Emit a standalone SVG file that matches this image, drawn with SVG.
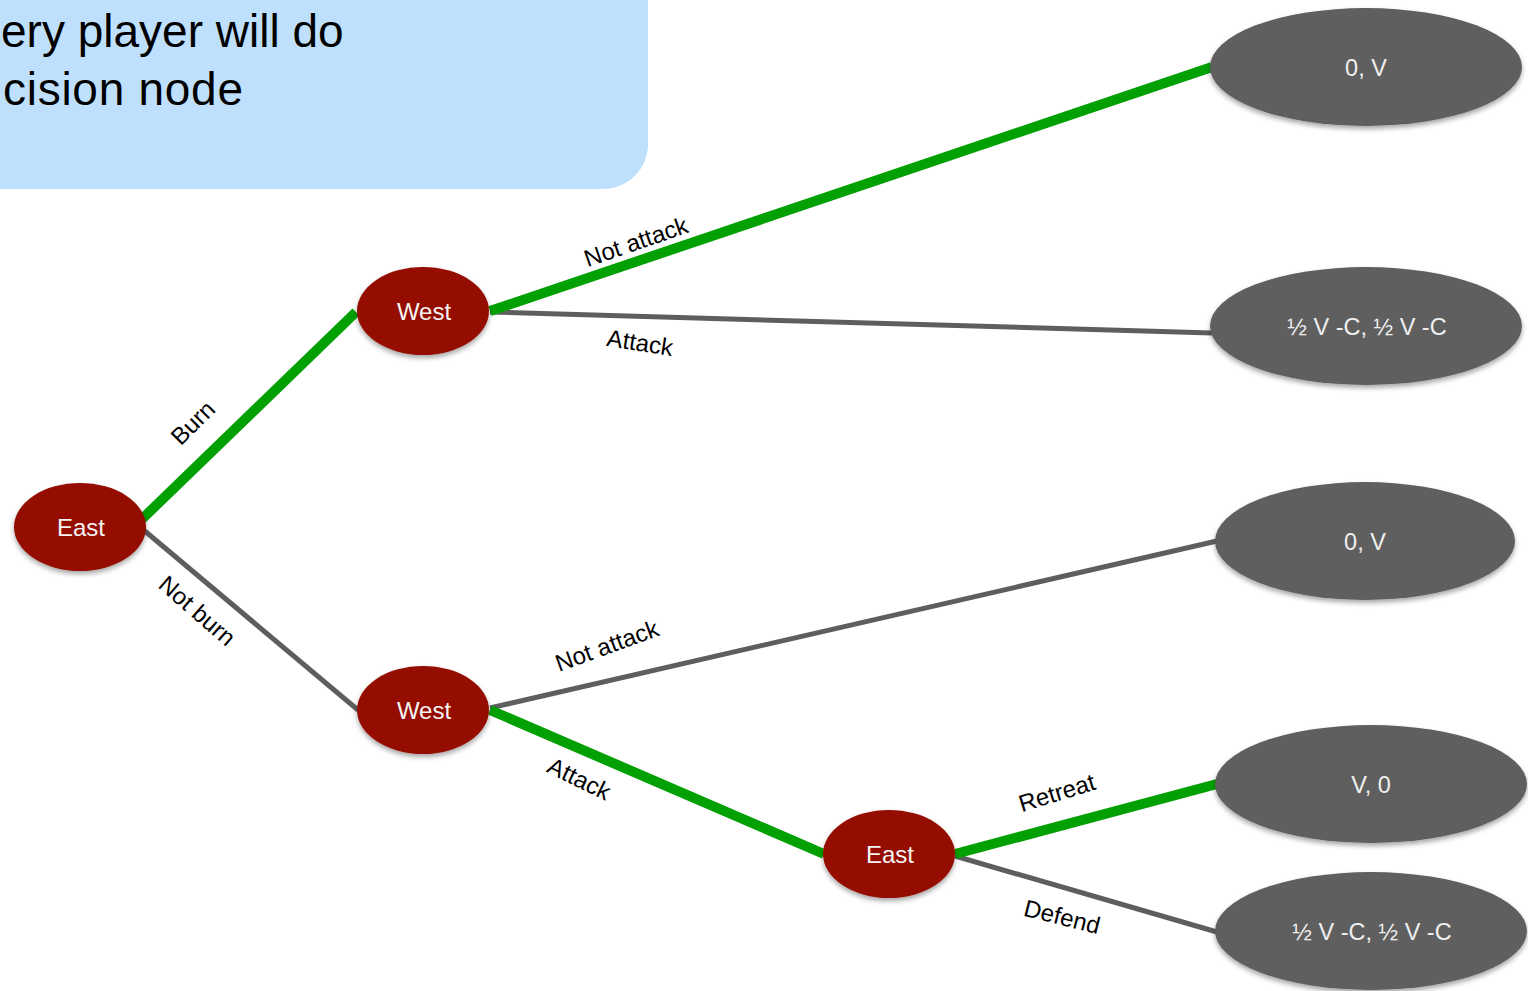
<svg xmlns="http://www.w3.org/2000/svg" width="1528" height="991" viewBox="0 0 1528 991">
  <style>
    .lbl { font-family: "Liberation Sans", Arial, sans-serif; font-size: 24px; fill: #000000; text-anchor: middle; }
    .ntxt { font-family: "Liberation Sans", Arial, sans-serif; font-size: 24px; fill: #f4f4f4; text-anchor: middle; }
    .ptxt { font-family: "Liberation Sans", Arial, sans-serif; font-size: 23.5px; fill: #f0f0f0; text-anchor: middle; }
    .dec { fill: #941100; filter: url(#shadow); }
    .pay { fill: #5e5e5e; filter: url(#shadow); }
    .best { stroke: #02a002; stroke-width: 10; fill: none; }
    .other { stroke: #5e5e5e; stroke-width: 5; fill: none; }
    .note { font-family: "Liberation Sans", Arial, sans-serif; font-size: 46px; fill: #000000; }
  </style>
  <defs>
    <filter id="shadow" x="-10%" y="-10%" width="120%" height="130%">
      <feDropShadow dx="0" dy="3" stdDeviation="2.5" flood-color="#000000" flood-opacity="0.35"/>
    </filter>
  </defs>

  <rect width="1528" height="991" fill="#ffffff"/>

  <!-- callout box -->
  <g id="callout">
    <path d="M -10 -10 H 648 V 144 A 45 45 0 0 1 603 189 H -10 Z" fill="#bfe0fd"/>
    <text class="note" x="1" y="47">ery player will do</text>
    <text class="note" x="3" y="105" textLength="240">cision node</text>
  </g>

  <!-- branches -->
  <g id="connectors">
    <line class="other" x1="140" y1="527" x2="358" y2="710"/>
    <line class="best" x1="140" y1="521" x2="356" y2="312"/>
    <line class="other" x1="490" y1="312" x2="1212" y2="333"/>
    <line class="best" x1="490" y1="311" x2="1212" y2="67"/>
    <line class="other" x1="490" y1="708" x2="1217" y2="541"/>
    <line class="best" x1="490" y1="710" x2="824" y2="854"/>
    <line class="other" x1="955" y1="856" x2="1217" y2="932"/>
    <line class="best" x1="955" y1="854" x2="1217" y2="784"/>

    <text class="lbl" transform="translate(193,423) rotate(-45)" dy="8">Burn</text>
    <text class="lbl" transform="translate(197,611) rotate(41)" dy="8">Not burn</text>
    <text class="lbl" transform="translate(636,242) rotate(-19)" dy="8">Not attack</text>
    <text class="lbl" transform="translate(640,343) rotate(9)" dy="8">Attack</text>
    <text class="lbl" transform="translate(607,646) rotate(-20)" dy="8">Not attack</text>
    <text class="lbl" transform="translate(579,779) rotate(26)" dy="8">Attack</text>
    <text class="lbl" transform="translate(1057,793) rotate(-17)" dy="8">Retreat</text>
    <text class="lbl" transform="translate(1062,917) rotate(14)" dy="8">Defend</text>
  </g>

  <!-- decision nodes -->
  <g id="east-root">
    <ellipse class="dec" cx="80" cy="527" rx="66" ry="44"/>
    <text class="ntxt" x="81" y="536">East</text>
  </g>
  <g id="west-top">
    <ellipse class="dec" cx="423" cy="311" rx="66" ry="44"/>
    <text class="ntxt" x="424" y="320">West</text>
  </g>
  <g id="west-bottom">
    <ellipse class="dec" cx="423" cy="710" rx="66" ry="44"/>
    <text class="ntxt" x="424" y="719">West</text>
  </g>
  <g id="east-second">
    <ellipse class="dec" cx="889" cy="854" rx="66" ry="44"/>
    <text class="ntxt" x="890" y="863">East</text>
  </g>

  <!-- payoffs -->
  <g id="payoff-1">
    <ellipse class="pay" cx="1366" cy="67" rx="156" ry="59"/>
    <text class="ptxt" x="1366" y="76">0, V</text>
  </g>
  <g id="payoff-2">
    <ellipse class="pay" cx="1366" cy="326" rx="156" ry="59"/>
    <text class="ptxt" x="1367" y="335">½ V -C, ½ V -C</text>
  </g>
  <g id="payoff-3">
    <ellipse class="pay" cx="1365" cy="541" rx="150" ry="59"/>
    <text class="ptxt" x="1365" y="550">0, V</text>
  </g>
  <g id="payoff-4">
    <ellipse class="pay" cx="1371" cy="784" rx="156" ry="59"/>
    <text class="ptxt" x="1371" y="793">V, 0</text>
  </g>
  <g id="payoff-5">
    <ellipse class="pay" cx="1371" cy="931" rx="156" ry="59"/>
    <text class="ptxt" x="1372" y="940">½ V -C, ½ V -C</text>
  </g>
</svg>
